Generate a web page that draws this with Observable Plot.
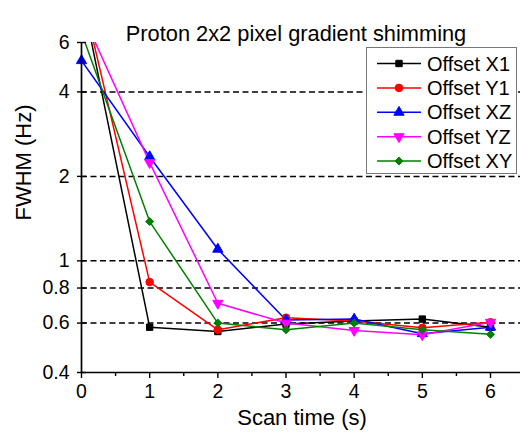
<!DOCTYPE html>
<html><head><meta charset="utf-8">
<script src="https://cdn.jsdelivr.net/npm/d3@7"></script>
<script src="https://cdn.jsdelivr.net/npm/@observablehq/plot@0.6"></script>
<style>
body{margin:0;background:#fff;font-family:"Liberation Sans",Arial,sans-serif}
#wrap{position:relative;width:520px;height:436px;overflow:hidden}
#legend{position:absolute;left:366px;top:47px}
</style>
</head><body><div id="wrap"></div>
<script>
const scanTime = [0, 1, 2, 3, 4, 5, 6];
const offsetX1 = [9.0, 0.58, 0.56, 0.595, 0.61, 0.62, 0.58];
const offsetY1 = [9.2, 0.84, 0.568, 0.627, 0.61, 0.577, 0.604];
const offsetXZ = [5.17, 2.35, 1.10, 0.615, 0.62, 0.55, 0.58];
const offsetYZ = [7.7, 2.24, 0.706, 0.60, 0.565, 0.545, 0.604];
const offsetXY = [6.5, 1.38, 0.60, 0.568, 0.60, 0.568, 0.547];
const seriesNames = ["Offset X1", "Offset Y1", "Offset XZ", "Offset YZ", "Offset XY"];
const seriesColors = ["#000000", "#ff0000", "#0000ff", "#ff00ff", "#008000"];
const yTicks = [0.4, 0.6, 0.8, 1, 2, 4, 6];
const gridValues = [0.6, 0.8, 1, 2, 4];
const xTicks = [0, 1, 2, 3, 4, 5, 6];
const xMinorTicks = [0.5, 1.5, 2.5, 3.5, 4.5, 5.5];
const titleText = "Proton 2x2 pixel gradient shimming";
const xLabel = "Scan time (s)";
const yLabel = "FWHM (Hz)";

const triangleDown = {
  draw(context, size) {
    const y = -Math.sqrt(size / (Math.sqrt(3) * 3));
    context.moveTo(0, -y * 2);
    context.lineTo(-Math.sqrt(3) * y, y);
    context.lineTo(Math.sqrt(3) * y, y);
    context.closePath();
  }
};
const seriesSymbols = ["square", "circle", "triangle", triangleDown, "diamond2"];
const seriesR = [3.6, 3.8, 3.8, 3.8, 3.6];
const seriesValues = [offsetX1, offsetY1, offsetXZ, offsetYZ, offsetXY];

const yMax = 6, yMin = 0.4;
const font = "Liberation Sans, Arial, sans-serif";

const marks = [
  Plot.ruleY(gridValues, {stroke: "#000", strokeWidth: 1.5, strokeDasharray: "6,3.5"}),
];
seriesValues.forEach((vals, k) => {
  marks.push(Plot.line(scanTime, {x: d => d, y: (d, i) => vals[i], stroke: seriesColors[k], strokeWidth: 1.5, clip: true}));
});
seriesValues.forEach((vals, k) => {
  marks.push(Plot.dot(scanTime, {
    x: d => d, y: (d, i) => vals[i],
    filter: (d, i) => vals[i] <= yMax && vals[i] >= yMin,
    symbol: seriesSymbols[k], r: seriesR[k],
    fill: seriesColors[k], stroke: seriesColors[k], strokeWidth: 1
  }));
});
marks.push(
  Plot.ruleY(yTicks, {x1: 0, x2: 0.075, stroke: "#000", strokeWidth: 1.4}),
  Plot.axisY({ticks: yTicks, tickFormat: d => String(d), tickSize: 4, tickPadding: 8, fontSize: 19.5, label: null, strokeWidth: 1.4, color: "#000"}),
  Plot.axisX({ticks: xTicks, tickFormat: d => String(d), tickSize: 6, tickPadding: 6, fontSize: 19.5, label: null, strokeWidth: 1.4, color: "#000"}),
  Plot.axisX({ticks: xMinorTicks, tickFormat: () => "", tickSize: 4, label: null, strokeWidth: 1.4, color: "#000"}),
  Plot.ruleX([0], {stroke: "#000", strokeWidth: 1.7}),
  Plot.ruleY([yMin], {stroke: "#000", strokeWidth: 1.7}),
  Plot.text([titleText], {text: d => d, frameAnchor: "top", dy: -17, dx: -5, fontSize: 21.8, fill: "#000"}),
  Plot.text([xLabel], {text: d => d, frameAnchor: "bottom", dy: 52, dx: 1, fontSize: 22, fill: "#000"}),
  Plot.text([yLabel], {text: d => d, frameAnchor: "left", dx: -58, dy: 13, rotate: -90, fontSize: 22, fill: "#000"})
);

const chart = Plot.plot({
  width: 520, height: 436,
  marginLeft: 81, marginRight: 0, marginTop: 42, marginBottom: 64,
  style: {fontFamily: font, background: "#fff", color: "#000", overflow: "visible"},
  x: {domain: [0, 6.44]},
  y: {type: "log", domain: [yMin, yMax]},
  marks
});
document.getElementById("wrap").appendChild(chart);

// Legend box inside the plot area
const typeMap = {square: d3.symbolSquare, circle: d3.symbolCircle, triangle: d3.symbolTriangle, diamond2: d3.symbolDiamond2};
const lg = d3.select("#wrap").append("svg").attr("id", "legend")
  .attr("width", 152).attr("height", 128)
  .style("font-family", font);
lg.append("rect").attr("x", 0.5).attr("y", 0.5).attr("width", 150).attr("height", 126)
  .attr("fill", "#fff").attr("stroke", "#777").attr("stroke-width", 1);
seriesNames.forEach((name, k) => {
  const cy = 16.5 + k * 24.4;
  const g = lg.append("g");
  g.append("line").attr("x1", 11).attr("x2", 55).attr("y1", cy).attr("y2", cy)
    .attr("stroke", seriesColors[k]).attr("stroke-width", 1.5);
  const st = typeof seriesSymbols[k] === "string" ? typeMap[seriesSymbols[k]] : seriesSymbols[k];
  const r = seriesR[k];
  g.append("path").attr("d", d3.symbol(st, Math.PI * r * r)())
    .attr("transform", `translate(33,${cy})`)
    .attr("fill", seriesColors[k]).attr("stroke", seriesColors[k]);
  g.append("text").attr("x", 61).attr("y", cy).attr("dy", "0.35em")
    .attr("font-size", 20).attr("fill", "#000").text(name);
});
</script>
</body></html>
